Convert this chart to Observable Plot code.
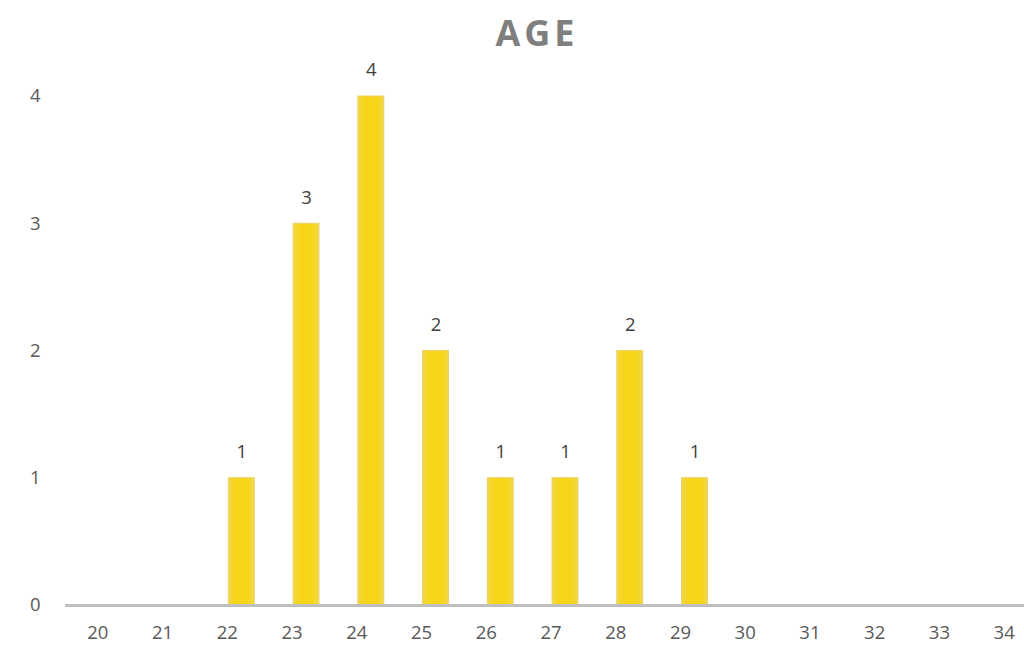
<!DOCTYPE html>
<html>
<head>
<meta charset="utf-8">
<script src="https://cdn.jsdelivr.net/npm/d3@7"></script>
<script src="https://cdn.jsdelivr.net/npm/@observablehq/plot@0.6"></script>
<style>
  html, body { margin: 0; padding: 0; background: #fff; overflow: hidden; width: 1024px; }
  #title {
    height: 40px; line-height: 66px; text-align: center; position: relative; z-index: 1;
    font-family: "Open Sans", sans-serif; font-weight: bold; font-size: 36px;
    letter-spacing: 4px; color: #7f7f7f; padding-left: 50px;
  }
  #chart { width: 1024px; overflow: hidden; }
</style>
</head>
<body>
<div id="title">AGE</div>
<div id="chart"></div>
<script>
// Age distribution
const ages = [20, 21, 22, 23, 24, 25, 26, 27, 28, 29, 30, 31, 32, 33, 34];
const counts = [0, 0, 1, 3, 4, 2, 1, 1, 2, 1, 0, 0, 0, 0, 0];
const yTicks = [0, 1, 2, 3, 4];

const rows = ages.map((a, i) => ({age: String(a), count: counts[i]}));
const nonzero = rows.filter(d => d.count > 0);

// the last category runs past the right edge, so the frame is a bit wider than the page
const chart = Plot.plot({
  width: 1036,
  height: 612,
  marginLeft: 65,
  marginRight: 0,
  marginTop: 56,
  marginBottom: 47,
  style: {fontFamily: "'Open Sans', sans-serif", fontSize: "18.5px", color: "#595959", background: "transparent", maxWidth: "none"},
  x: {domain: ages.map(String), paddingInner: 0.6, paddingOuter: 0.3, round: false, label: null, tickSize: 0, tickPadding: 20},
  y: {domain: [0, 4], ticks: yTicks, label: null, tickSize: 0, tickPadding: 25, tickFormat: d3.format("d")},
  marks: [
    Plot.barY(nonzero, {x: "age", y: "count", dx: 14.5, fill: "url(#barGrad)", stroke: "#e9d36a", strokeWidth: 1}),
    Plot.ruleY([0], {stroke: "#bfbfbf", strokeWidth: 3}),
    Plot.text(nonzero, {x: "age", y: "count", dx: 14.5, text: d => String(d.count), dy: -26, fill: "#404040", fontSize: 18.5})
  ]
});

// horizontal gradient giving the bars softly lit edges
const svgNS = "http://www.w3.org/2000/svg";
const defs = document.createElementNS(svgNS, "defs");
const grad = document.createElementNS(svgNS, "linearGradient");
grad.setAttribute("id", "barGrad");
grad.setAttribute("x1", "0"); grad.setAttribute("x2", "1");
grad.setAttribute("y1", "0"); grad.setAttribute("y2", "0");
[["0%", "#f1d84a"], ["25%", "#f6d51a"], ["75%", "#f6d51a"], ["100%", "#f1d84a"]].forEach(([o, c]) => {
  const s = document.createElementNS(svgNS, "stop");
  s.setAttribute("offset", o); s.setAttribute("stop-color", c);
  grad.appendChild(s);
});
defs.appendChild(grad);
chart.insertBefore(defs, chart.firstChild);

document.getElementById("chart").appendChild(chart);
</script>
</body>
</html>
